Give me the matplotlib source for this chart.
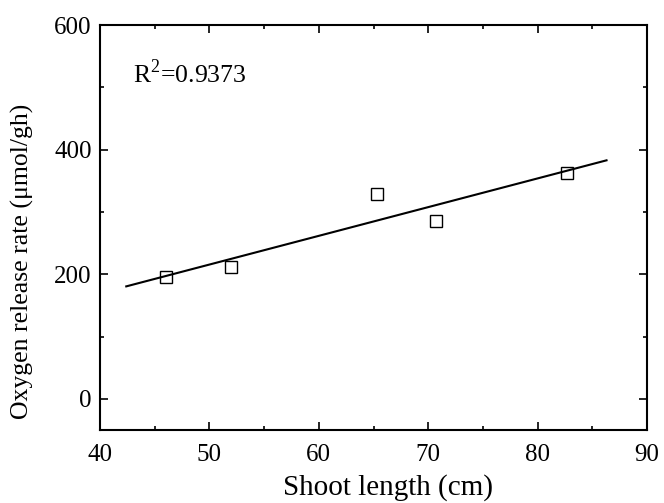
import numpy as np
import matplotlib
matplotlib.use("Agg")
import matplotlib.pyplot as plt
from matplotlib.ticker import MultipleLocator

plt.rcParams['font.family'] = ['Liberation Serif', 'DejaVu Serif']
plt.rcParams['mathtext.fontset'] = 'custom'
plt.rcParams['mathtext.rm'] = 'Liberation Serif'

# data
shoot_len = [46.0, 52.0, 65.3, 70.7, 82.7]
o2_rate = [196, 212, 328, 286, 363]
fit_range = [42.4, 86.3]

fig = plt.figure(figsize=(6.64, 5.03), dpi=100)
ax = fig.add_axes([100/664, 1-430/503, 547/664, 405/503])

k, b = np.polyfit(shoot_len, o2_rate, 1)
xf = np.array(fit_range)
ax.plot(xf, k*xf + b, color='black', lw=1.5)
ax.plot(shoot_len, o2_rate, ls='none', marker='s', ms=8.5,
        mfc='none', mec='black', mew=1.0)

ax.text(43.0, 507, r'R$^\mathregular{2}$=0.9373', fontsize=18.5)

ax.set_xlim(40, 90)
ax.set_ylim(-50, 600)
ax.xaxis.set_major_locator(MultipleLocator(10))
ax.xaxis.set_minor_locator(MultipleLocator(5))
ax.yaxis.set_major_locator(MultipleLocator(200))
ax.yaxis.set_minor_locator(MultipleLocator(100))
ax.tick_params(which='both', direction='in', top=True, right=True,
               labeltop=False, labelright=False, width=1.2)
ax.tick_params(which='major', length=6, labelsize=18)
ax.tick_params(which='minor', length=3)
ax.tick_params(axis='x', pad=10)
ax.tick_params(axis='y', pad=6)
for s in ax.spines.values():
    s.set_linewidth(1.5)

ax.set_xlabel('Shoot length (cm)', fontsize=21)
ax.set_ylabel('Oxygen release rate (μmol/gh)', fontsize=18.5)
ax.xaxis.set_label_coords(0.527, -0.11)
ax.yaxis.set_label_coords(-0.12, 0.417)

fig.savefig('out.png', dpi=100)
